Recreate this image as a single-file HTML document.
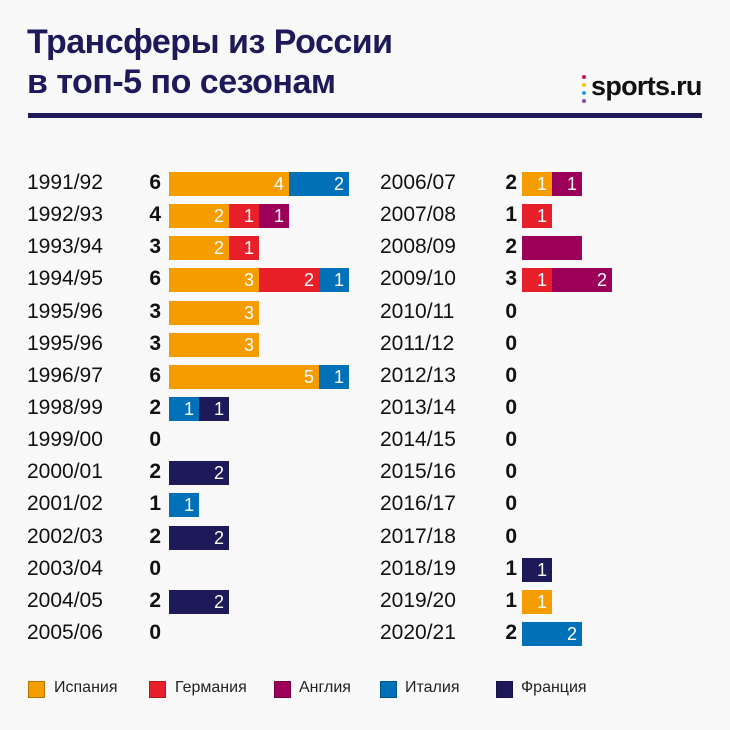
<!DOCTYPE html>
<html><head><meta charset="utf-8">
<style>
body{margin:0;background:#f9f9f9;font-family:"Liberation Sans","DejaVu Sans",sans-serif;}
#root{position:relative;width:730px;height:730px;overflow:hidden;}
.title{position:absolute;left:27px;font-size:34px;font-weight:bold;color:#1e1a5a;letter-spacing:-0.5px;}
.lbl{position:absolute;font-size:21px;color:#111;font-weight:300;}
.tot{position:absolute;font-size:21px;font-weight:bold;color:#111;text-align:right;width:30px;}
.seg{position:absolute;height:24px;color:#fff;font-size:18px;text-align:right;box-sizing:border-box;padding-right:5px;line-height:24px;}
.leg{position:absolute;top:681px;width:17px;height:17px;box-sizing:border-box;border:1px solid rgba(0,0,0,.25);}
.legt{position:absolute;top:679px;font-size:16px;color:#222;}
</style></head><body>
<div id="root">
<div class="title" style="top:23px">Трансферы из России</div>
<div class="title" style="top:63px">в топ-5 по сезонам</div>
<div style="position:absolute;left:582px;top:71px;">
  <div style="position:absolute;left:0;top:4px;width:4px;height:4px;border-radius:2px;background:#d0105a"></div>
  <div style="position:absolute;left:0;top:12px;width:4px;height:4px;border-radius:2px;background:#f5c400"></div>
  <div style="position:absolute;left:0;top:20px;width:4px;height:4px;border-radius:2px;background:#2aa0e0"></div>
  <div style="position:absolute;left:0;top:28px;width:4px;height:4px;border-radius:2px;background:#8a4aa0"></div>
  <div style="position:absolute;left:9px;top:0;font-size:27px;font-weight:bold;color:#111;letter-spacing:-0.7px;">sports.ru</div>
</div>
<div style="position:absolute;left:28px;top:113px;width:674px;height:5px;background:#1e1a5a"></div>
<div id="rows"></div>
<div class="leg" style="left:28px;background:#f59c00"></div>
<div class="legt" style="left:54px">Испания</div>
<div class="leg" style="left:149px;background:#e8202a"></div>
<div class="legt" style="left:175px">Германия</div>
<div class="leg" style="left:274px;background:#9c0058"></div>
<div class="legt" style="left:299px">Англия</div>
<div class="leg" style="left:380px;background:#0070b8"></div>
<div class="legt" style="left:405px">Италия</div>
<div class="leg" style="left:496px;background:#1e1a5a"></div>
<div class="legt" style="left:521px">Франция</div>
</div>
<script>
const seasons=["1991/92","1992/93","1993/94","1994/95","1995/96","1995/96","1996/97","1998/99","1999/00","2000/01","2001/02","2002/03","2003/04","2004/05","2005/06",
"2006/07","2007/08","2008/09","2009/10","2010/11","2011/12","2012/13","2013/14","2014/15","2015/16","2016/17","2017/18","2018/19","2019/20","2020/21"];
const spain  =[4,2,2,3,3,3,5,0,0,0,0,0,0,0,0, 1,0,0,0,0,0,0,0,0,0,0,0,0,1,0];
const germany=[0,1,1,2,0,0,0,0,0,0,0,0,0,0,0, 0,1,0,1,0,0,0,0,0,0,0,0,0,0,0];
const england=[0,1,0,0,0,0,0,0,0,0,0,0,0,0,0, 1,0,2,2,0,0,0,0,0,0,0,0,0,0,0];
const italy  =[2,0,0,1,0,0,1,1,0,0,1,0,0,0,0, 0,0,0,0,0,0,0,0,0,0,0,0,0,0,2];
const france =[0,0,0,0,0,0,0,1,0,2,0,2,0,2,0, 0,0,0,0,0,0,0,0,0,0,0,0,1,0,0];
const hiddenLabel=["2008/09"];
const series=[spain,germany,england,italy,france];
const colors=["#f59c00","#e8202a","#9c0058","#0070b8","#1e1a5a"];
const names=["spain","germany","england","italy","france"];
const unit=30, rowStep=32.14, top0=172;
const root=document.getElementById('rows');
function xScale(col,v){return (col?522:169)+v*unit;}
function yScale(i){return top0+(i%15)*rowStep;}
seasons.forEach((s,i)=>{
  const col=i<15?0:1, y=yScale(i);
  const l=document.createElement('div');l.className='lbl';
  
  
  l.style.left=(col?380:27)+'px';l.style.top=(y-1)+'px';l.textContent=s;root.appendChild(l);
  let tot=0;series.forEach(a=>tot+=a[i]);
  const t=document.createElement('div');t.className='tot';
  
  
  t.style.left=(col?487:131)+'px';t.style.top=(y-1)+'px';t.textContent=tot;root.appendChild(t);
  let acc=0;
  series.forEach((a,k)=>{
    const v=a[i];if(!v)return;
    const b=document.createElement('div');b.className='seg';
    
    
    const x0=xScale(col,acc),x1=xScale(col,acc+v);
    b.style.left=x0+'px';b.style.top=y+'px';b.style.width=(x1-x0)+'px';b.style.background=colors[k];
    b.textContent=hiddenLabel.includes(s)?'':v;
    root.appendChild(b);acc+=v;
  });
});
</script>
</body></html>
